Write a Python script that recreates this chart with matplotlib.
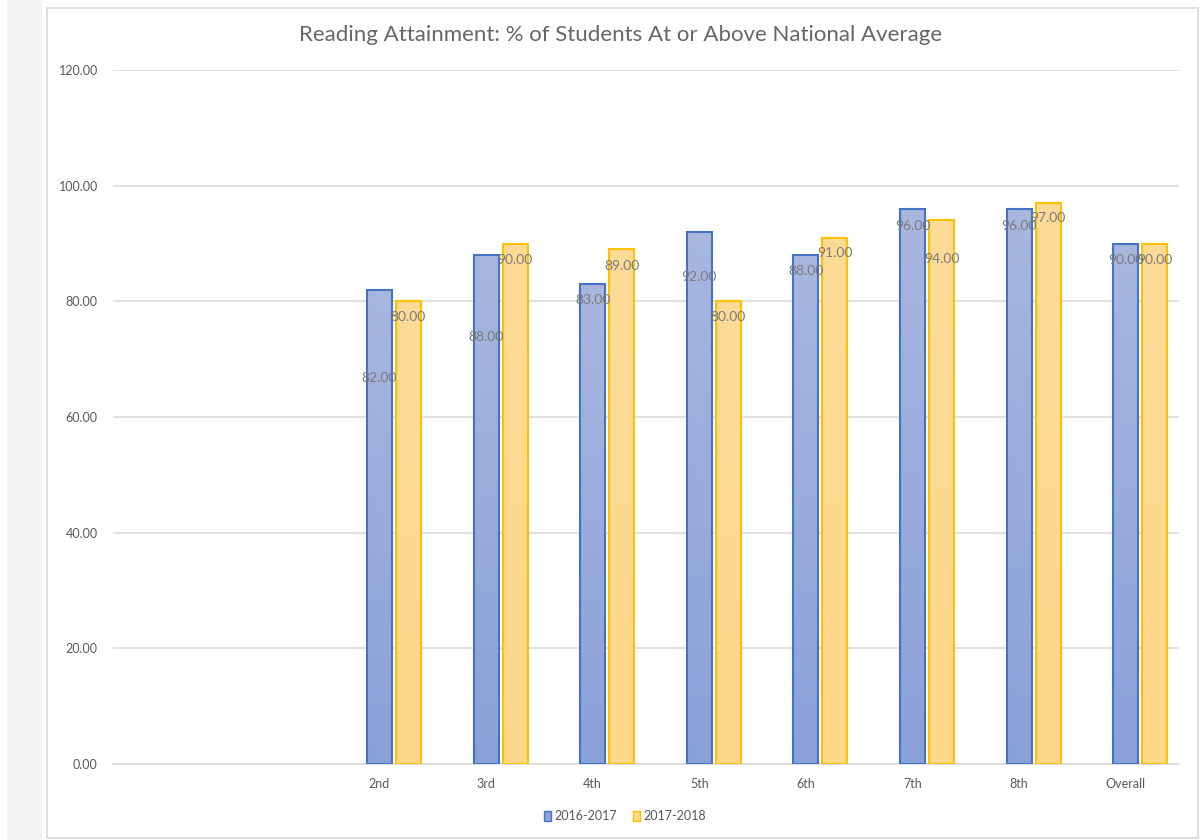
import numpy as np
import matplotlib.pyplot as plt
from matplotlib.patches import Rectangle
from matplotlib.colors import LinearSegmentedColormap

plt.rcParams['font.family'] = ['Lato', 'DejaVu Sans']

# ---- data ----
categories = ['', '', '2nd', '3rd', '4th', '5th', '6th', '7th', '8th', 'Overall']
series_names = ['2016-2017', '2017-2018']
vals_1617 = [None, None, 82, 88, 83, 92, 88, 96, 96, 90]
vals_1718 = [None, None, 80, 90, 89, 80, 91, 94, 97, 90]
# where Excel put the data labels (in value units, they sit oddly inside the bars)
lab_y_1617 = [None, None, 66.7, 73.8, 80.2, 84.2, 85.3, 93.0, 93.0, 87.2]
lab_y_1718 = [None, None, 77.3, 87.2, 86.1, 77.3, 88.4, 87.3, 94.4, 87.2]

blue_edge = '#4472c4'
gold_edge = '#ffc000'
blue_cm = LinearSegmentedColormap.from_list('b', ['#8aa0d8', '#a9b7df'])
gold_cm = LinearSegmentedColormap.from_list('g', ['#fed78a', '#fddc98'])
txt_grey = '#595959'

fig = plt.figure(figsize=(12.03, 8.4), dpi=100)
fig.patch.set_facecolor('white')

# grey strip on the left + chart frame (like an Excel screenshot)
fig.add_artist(Rectangle((7 / 1203, 0), 35 / 1203, 1, transform=fig.transFigure,
                         facecolor='#f3f3f3', edgecolor='none', zorder=-5))
fig.add_artist(Rectangle((47 / 1203, 2 / 840), 1151 / 1203, 830 / 840,
                         transform=fig.transFigure, facecolor='white',
                         edgecolor='#d9d9d9', linewidth=1.2, zorder=-4))

ax = fig.add_axes([113 / 1203, 1 - 764 / 840, (1179 - 113) / 1203, (764 - 70) / 840])
ax.set_facecolor('none')

x = np.arange(len(categories))
w = 0.234
offs = [0.0, 0.272]

grad = np.linspace(0, 1, 256).reshape(-1, 1)
for vals, labs, off, ec, cm in [(vals_1617, lab_y_1617, offs[0], blue_edge, blue_cm),
                                (vals_1718, lab_y_1718, offs[1], gold_edge, gold_cm)]:
    for xi, v, ly in zip(x, vals, labs):
        if v is None:
            continue
        x0 = xi + off - w / 2
        ax.imshow(grad, cmap=cm, extent=[x0, x0 + w, 0, v], origin='lower',
                  aspect='auto', zorder=2)
        ax.add_patch(Rectangle((x0, 0), w, v, facecolor='none', edgecolor=ec,
                               linewidth=1.5, zorder=3))
        ax.text(xi + off, ly, f'{v:.2f}', ha='center', va='center',
                fontsize=10, color='#7a7a7a', zorder=4)

ax.set_xlim(-0.5, len(categories) - 0.5)
ax.set_ylim(0, 120)
ax.set_yticks(np.arange(0, 121, 20))
ax.set_yticklabels([f'{t:.2f}' for t in np.arange(0, 121, 20)])
ax.set_xticks(x)
ax.set_xticklabels(categories)
ax.tick_params(axis='both', length=0, labelsize=9, colors=txt_grey)
ax.tick_params(axis='y', pad=11)
ax.tick_params(axis='x', pad=10)
ax.grid(axis='y', color='#d9d9d9', linewidth=1.1, zorder=0)
ax.set_axisbelow(True)
for s in ['top', 'right', 'left']:
    ax.spines[s].set_visible(False)
ax.spines['bottom'].set_color('#d9d9d9')
ax.spines['bottom'].set_linewidth(1.1)

fig.text(621 / 1203, 1 - 35 / 840,
         'Reading Attainment: % of Students At or Above National Average',
         ha='center', va='center', fontsize=16, color='#666666')

handles = [Rectangle((0, 0), 1, 1, facecolor='#8ea3d9', edgecolor=blue_edge),
           Rectangle((0, 0), 1, 1, facecolor='#fed78a', edgecolor=gold_edge)]
fig.legend(handles, series_names, loc='center', bbox_to_anchor=(625 / 1203, 1 - 816 / 840),
           ncol=2, frameon=False, fontsize=9, labelcolor=txt_grey,
           handlelength=0.6, handleheight=0.9, handletextpad=0.3, columnspacing=1.2)

fig.savefig('out.png', dpi=100, facecolor='white')
